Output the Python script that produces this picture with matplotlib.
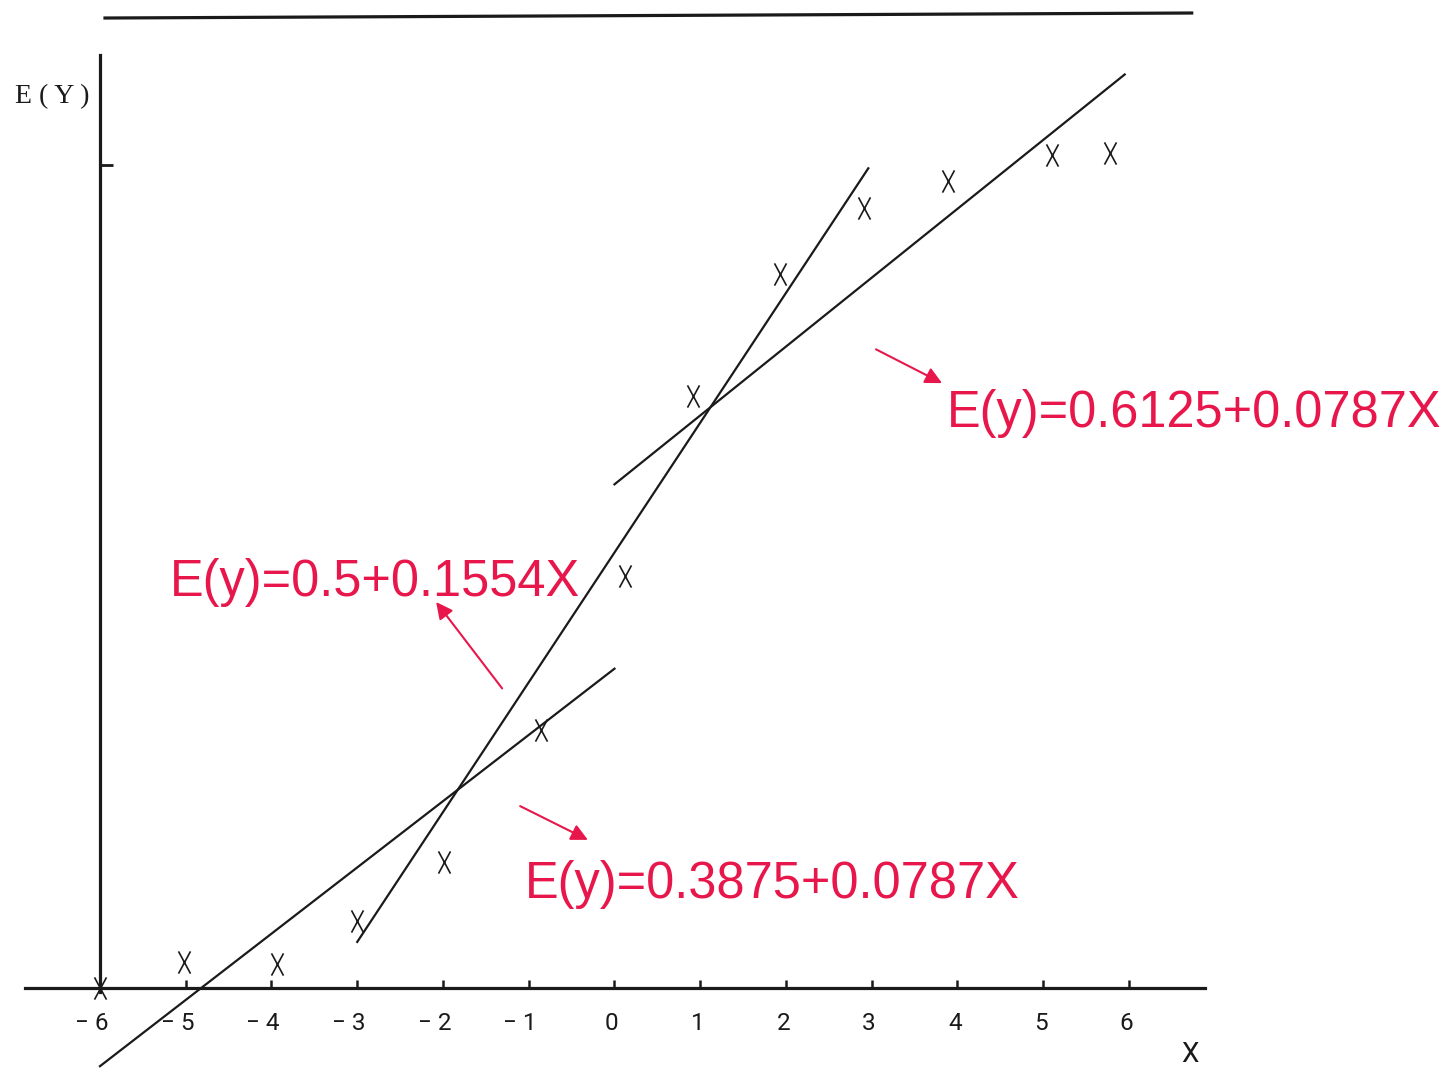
import matplotlib
matplotlib.use('Agg')
import matplotlib.pyplot as plt
from matplotlib.path import Path
from matplotlib import font_manager

pts_x = [-6.0, -5.02, -3.94, -3.0, -1.99, -0.86, 0.12, 0.92, 1.93, 2.91, 3.89, 5.10, 5.78]
pts_y = [0.0, 0.032, 0.029, 0.081, 0.153, 0.313, 0.501, 0.719, 0.867, 0.948, 0.981, 1.012, 1.015]

# fitted line segments (end points)
low_x = [-6.0, 0.0]
low_y = [-0.095, 0.388]
mid_x = [-3.0, 2.96]
mid_y = [0.056, 0.996]
up_x = [0.0, 5.95]
up_y = [0.612, 1.11]

x_ticks = [-6, -5, -4, -3, -2, -1, 0, 1, 2, 3, 4, 5, 6]
tick_labels = ['-6', '-5', '-4', '-3', '-2', '-1', '0', '1', '2', '3', '4', '5', '6']

eq_up = 'E(y)=0.6125+0.0787X'
eq_mid = 'E(y)=0.5+0.1554X'
eq_low = 'E(y)=0.3875+0.0787X'

red = '#E8174B'
ink = '#1a1a1a'

names = {f.name for f in font_manager.fontManager.ttflist}
narrow = 'Roboto' if 'Roboto' in names else 'DejaVu Sans'

fig = plt.figure(figsize=(14.49, 10.88), dpi=100)
ax = fig.add_axes([0, 0, 1, 1])
ax.set_xlim(-7.166, 9.732)
ax.set_ylim(-0.1215, 1.2005)

for s in ['top', 'right']:
    ax.spines[s].set_visible(False)
ax.spines['bottom'].set_position(('data', 0))
ax.spines['left'].set_position(('data', -6))
ax.spines['bottom'].set_bounds(-6.875, 6.886)
ax.spines['left'].set_bounds(-0.005, 1.134)
for s in ['bottom', 'left']:
    ax.spines[s].set_linewidth(2.3)
    ax.spines[s].set_color(ink)

ax.set_xticks(x_ticks, labels=[''] * len(x_ticks))
ax.set_yticks([1.0], labels=[''])
ax.tick_params(axis='x', direction='in', length=6, width=1.8, color=ink)
ax.tick_params(axis='y', direction='in', length=9, width=2.0, color=ink)

# tick labels, minus sign hanging to the left of the tick
for t, lbl in zip(x_ticks, tick_labels):
    if t < 0:
        ax.annotate(lbl.replace('-', '\u2212 '), xy=(t, 0), xytext=(6, -17),
                    textcoords='offset points', ha='right', va='top',
                    fontsize=17.5, family=narrow, color=ink)
    else:
        ax.annotate(lbl, xy=(t, 0), xytext=(-2, -17),
                    textcoords='offset points', ha='center', va='top',
                    fontsize=17.5, family=narrow, color=ink)

# top rule of the scanned page
ax.plot([-5.96, 6.75], [1.1786, 1.1847], color=ink, lw=2.3, solid_capstyle='butt')

# fitted segments
ax.plot(low_x, low_y, color=ink, lw=1.6)
ax.plot(mid_x, mid_y, color=ink, lw=1.6)
ax.plot(up_x, up_y, color=ink, lw=1.6)

# typed X markers
xmark = Path([(-0.27, -0.5), (0.27, 0.5), (-0.27, 0.5), (0.27, -0.5)],
             [Path.MOVETO, Path.LINETO, Path.MOVETO, Path.LINETO])
ax.plot(pts_x, pts_y, ls='none', marker=xmark, ms=16, mew=1.2,
        mec=ink, mfc='none')

ax.text(-6.99, 1.075, 'E ( Y )', family='Liberation Serif', fontsize=20, color=ink)
ax.text(6.71, -0.081, 'X', family=narrow, fontsize=20, color=ink,
        ha='center', va='center')

# red annotations
for txt, (tx, ty), tail, tip in [
        (eq_up, (3.88, 0.682), (3.05, 0.776), (3.82, 0.735)),
        (eq_mid, (-5.18, 0.476), (-1.31, 0.364), (-2.08, 0.469)),
        (eq_low, (-1.04, 0.109), (-1.10, 0.221), (-0.31, 0.180))]:
    ax.text(tx, ty, txt, color=red, fontsize=36.4, family='Liberation Sans',
            ha='left', va='baseline')
    ax.annotate('', xy=tip, xytext=tail,
                arrowprops=dict(arrowstyle='-|>,head_length=1.0,head_width=0.5',
                                color=red, lw=1.5, shrinkA=0, shrinkB=0))

fig.savefig('out.png', dpi=100)
